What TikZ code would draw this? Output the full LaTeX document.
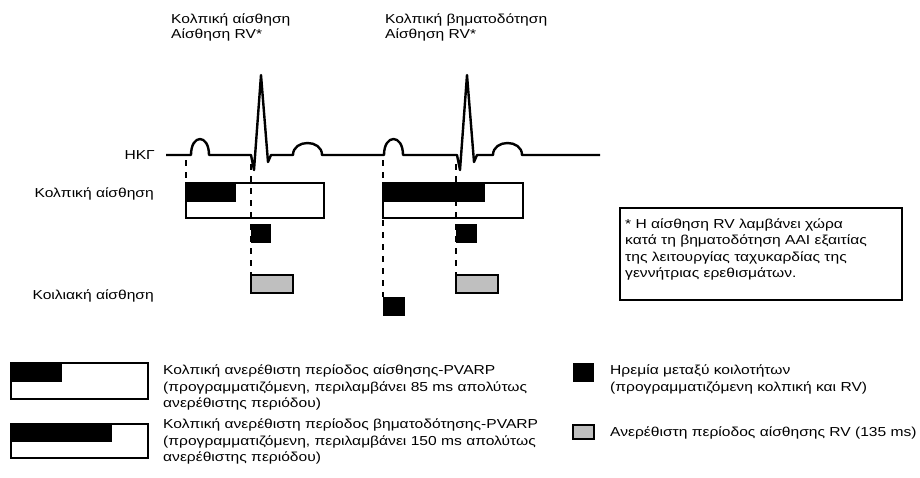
\documentclass[tikz,border=0pt]{standalone}
\usepackage{fontspec}
\setmainfont{Liberation Sans}[FakeStretch=1.2]
\usetikzlibrary{positioning}
\tikzset{
  ecg/.style={line width=2.4pt, line join=round},
  period/.style={draw=black, line width=1.8pt, fill=white, inner sep=0pt, outer sep=0pt, anchor=north west},
  blackbar/.style={fill=black, inner sep=0pt, outer sep=0pt, anchor=north west},
  graybar/.style={draw=black, line width=1.8pt, fill=black!25, inner sep=0pt, outer sep=0pt, anchor=north west},
  notebox/.style={draw=black, line width=1.1pt, inner sep=0pt, outer sep=0pt, anchor=north west, minimum width=282pt, minimum height=92pt},
  marker/.style={line width=1.8pt, dash pattern=on 6pt off 6pt},
  lbl/.style={font=\fontsize{13}{16.5}\selectfont, align=left, inner sep=0pt},
  toplbl/.style={font=\fontsize{13}{15.5}\selectfont, align=left, inner sep=0pt}
}

\begin{document}
\begin{tikzpicture}[x=1pt,y=-1pt]
\useasboundingbox (0,0) rectangle (920,477);

% labels (base = last line)
\node[toplbl, anchor=base west] (evt1) at (171,38.5) {Κολπική αίσθηση\\Αίσθηση RV*};
\node[toplbl, anchor=base west] (evt2) at (385,38.5) {Κολπική βηματοδότηση\\Αίσθηση RV*};
\node[lbl, anchor=base east] (ecglbl) at (155,159.5) {ΗΚΓ};
\node[lbl, anchor=base east] (albl) at (154,197.5) {Κολπική αίσθηση};
\node[lbl, anchor=base east] (vlbl) at (154,299.5) {Κοιλιακή αίσθηση};

% ECG trace
\draw[ecg] (166,155) -- (191,155)
  .. controls (191,133.7) and (209,133.7) .. (209,155)
  -- (251,155) -- (254,170) -- (261,75) -- (268,162) -- (271,155) -- (293,155)
  .. controls (293,139) and (322,139) .. (322,155)
  -- (384,155)
  .. controls (384,133.7) and (403,133.7) .. (403,155)
  -- (457,155) -- (460,170) -- (467,75) -- (474,162) -- (477,155) -- (493,155)
  .. controls (493,139) and (522,139) .. (522,155)
  -- (600,155);

% markers on the trace
\coordinate (as1) at (186,160);
\coordinate (rv1) at (251,164);
\coordinate (ap2) at (383,160);
\coordinate (rv2) at (456,164);

% beat 1
\node[period, minimum width=138pt, minimum height=35pt] (arp1) at (186,183) {};
\node[blackbar, minimum width=50pt, minimum height=19pt] (abs1) at (186,183) {};
\node[blackbar, minimum width=20pt, minimum height=19pt] (blank1) at (251,224) {};
\node[graybar, minimum width=42pt, minimum height=18pt] (vrp1) at (251,275) {};

% beat 2
\node[period, minimum width=140pt, minimum height=35pt] (arp2) at (383,183) {};
\node[blackbar, minimum width=102pt, minimum height=19pt] (abs2) at (383,183) {};
\node[blackbar, minimum width=21pt, minimum height=19pt] (blank2) at (456,224) {};
\node[graybar, minimum width=42pt, minimum height=18pt] (vrp2) at (456,275) {};
\node[blackbar, minimum width=22pt, minimum height=19pt] (vblank2) at (383,297) {};

\draw[marker] (as1) -- (arp1.north west);
\draw[marker] (rv1) -- (vrp1.north west);
\draw[marker] (ap2) -- (vblank2.north west);
\draw[marker] (rv2) -- (vrp2.north west);

% note
\node[notebox] (note) at (620,208) {};
\node[lbl, anchor=base west] (notetext) at (625,277.5) {* Η αίσθηση RV λαμβάνει χώρα\\κατά τη βηματοδότηση AAI εξαιτίας\\της λειτουργίας ταχυκαρδίας της\\γεννήτριας ερεθισμάτων.};

% legend
\node[period, minimum width=137pt, minimum height=36pt] (keyas) at (11,363) {};
\node[blackbar, minimum width=51pt, minimum height=19pt] (keyasfill) at (11,363) {};
\node[period, minimum width=137pt, minimum height=34pt] (keyap) at (11,424) {};
\node[blackbar, minimum width=101pt, minimum height=18pt] (keyapfill) at (11,424) {};
\node[blackbar, minimum width=21pt, minimum height=19pt] (keyblank) at (573,363) {};
\node[graybar, minimum width=21pt, minimum height=14pt] (keyvrp) at (573,425) {};

\node[lbl, anchor=base west] (keyastext) at (163,407.5) {Κολπική ανερέθιστη περίοδος αίσθησης-PVARP\\(προγραμματιζόμενη, περιλαμβάνει 85 ms απολύτως\\ανερέθιστης περιόδου)};
\node[lbl, anchor=base west] (keyaptext) at (163,461.5) {Κολπική ανερέθιστη περίοδος βηματοδότησης-PVARP\\(προγραμματιζόμενη, περιλαμβάνει 150 ms απολύτως\\ανερέθιστης περιόδου)};
\node[lbl, anchor=base west] (keyblanktext) at (610,391) {Ηρεμία μεταξύ κοιλοτήτων\\(προγραμματιζόμενη κολπική και RV)};
\node[lbl, anchor=base west] (keyvrptext) at (610,436) {Ανερέθιστη περίοδος αίσθησης RV (135 ms)};
\end{tikzpicture}
\end{document}
